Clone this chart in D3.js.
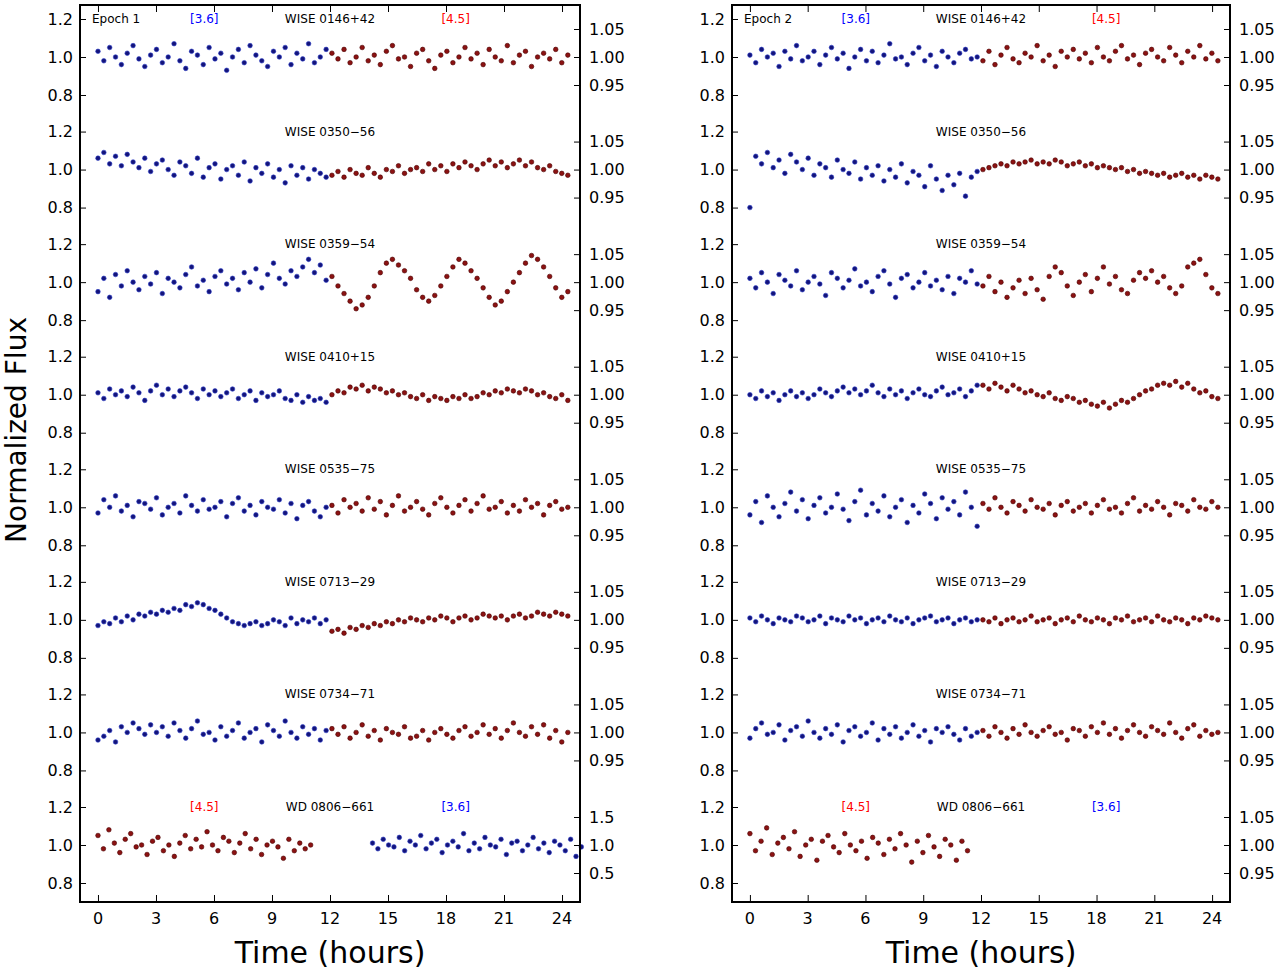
<!DOCTYPE html>
<html>
<head>
<meta charset="utf-8">
<script src="https://cdn.jsdelivr.net/npm/d3@7"></script>
<style>
  body { margin: 0; background: #fff; }
  text { font-family: "DejaVu Sans", sans-serif; }
</style>
</head>
<body>
<div id="chart"></div>
<script>
// object names, one per row
let targets = ['WISE 0146+42', 'WISE 0350\u221256', 'WISE 0359\u221254', 'WISE 0410+15',
    'WISE 0535\u221275', 'WISE 0713\u221229', 'WISE 0734\u221271', 'WD 0806\u2212661'];
let epochs = ['Epoch 1', 'Epoch 2'];
let leftTicks = [0.8, 1.0, 1.2];
let rightTicks = [0.95, 1.00, 1.05];
let rightTicksWD = [0.5, 1.0, 1.5];
let timeTicks = [0, 3, 6, 9, 12, 15, 18, 21, 24];

// time spans (hours) of each band per row: [start, end]
let span36 = [0, 11.8];
let span45 = [12.1, 24.3];
let spanWD45 = [[0, 11], [0, 11.3]];
let spanWD36 = [14.2, 25];

// flux deviations in percent, epoch 1
let epoch1Blue = [
  [3,-2,5,0,-4,2,6,-1,-5,1,4,-3,0,7,-2,-6,3,1,-4,5,-1,2,-7,0,4,-3,6,1,-2,-5,3,0,5,-4,2,-1,7,-3,0,4],
  [6,9,3,7,2,8,4,1,6,-1,3,5,0,-3,4,2,-2,6,-4,1,3,-5,0,2,-3,4,-6,1,-2,3,-4,0,-7,2,-3,1,-5,0,-2,-4],
  [-5,2,-8,4,-2,6,0,-4,3,-1,5,-6,2,0,-3,4,8,-2,1,-5,3,6,-1,2,-4,5,0,7,-3,4,10,2,-1,6,3,8,12,5,9,1],
  [1,-2,3,0,2,-1,4,1,-3,2,5,0,3,-1,2,4,1,-2,3,0,2,-1,1,3,-2,0,2,-3,1,-1,0,2,-2,-3,0,-4,-1,-3,-2,-4],
  [-3,4,0,6,-2,1,-5,3,2,-1,5,-4,0,2,-3,6,1,-2,4,-1,0,3,-5,2,5,-2,1,-4,3,0,-1,4,-3,2,-6,1,3,-2,-5,0],
  [-3,-1,-2,1,-1,2,0,3,2,4,3,5,4,6,5,8,7,9,8,6,5,3,1,-1,-2,-3,-2,-1,-3,-2,0,-1,-3,1,-2,0,-1,1,-2,0],
  [-4,-2,1,-5,3,0,5,2,-1,4,0,3,-2,5,1,-3,2,6,-1,0,-4,3,-2,1,5,-3,0,2,-5,4,1,-2,6,0,-3,3,-1,2,-4,1],
  [1,-2,3,0,-1,4,-3,2,0,5,-2,1,3,-4,0,2,-1,6,-3,1,-2,4,0,-1,3,-5,1,2,-3,0,4,-2,1,-4,2,0,-3,3,-6,-1]
];
let epoch1Red = [
  [2,-1,4,-3,0,5,-2,1,-4,3,6,-1,0,-5,2,4,-2,-6,1,3,-3,0,5,-1,2,-4,4,0,-2,6,-3,1,3,-5,0,2,-1,4,-3,1],
  [-3,-1,-4,0,-2,-3,1,-2,-4,0,-1,2,-2,0,1,-1,3,0,2,-1,3,1,4,2,0,3,5,2,4,1,3,5,2,4,1,0,2,-1,-2,-3],
  [3,-2,-6,-10,-14,-12,-8,-2,5,10,12,9,6,2,-4,-8,-10,-7,-2,3,8,12,10,6,2,-3,-8,-12,-10,-5,0,5,10,14,12,8,3,-3,-8,-5],
  [0,2,1,4,3,5,2,4,3,1,2,0,1,-1,-2,0,-3,-1,-2,-3,-1,-2,0,-2,-1,1,0,2,1,3,2,1,3,2,0,1,-1,-2,0,-3],
  [1,-3,4,0,2,-2,5,-1,3,-4,1,6,-2,0,3,-1,-4,2,5,0,-3,1,4,-2,2,6,-1,0,3,-3,1,-2,4,0,2,-4,1,3,-1,0],
  [-6,-5,-7,-4,-5,-3,-4,-2,-3,-1,-2,0,-1,1,0,-1,1,0,2,1,-1,1,2,0,1,3,2,1,2,0,2,3,1,2,4,3,2,4,3,2],
  [2,-1,3,-3,0,4,-2,1,-4,2,0,-1,3,-3,-2,1,-4,0,2,-1,-3,1,3,-2,0,4,-1,2,-3,1,5,0,-2,3,-1,4,-3,1,-5,0],
  [5,-2,8,1,-4,3,6,-1,0,-5,2,4,-3,0,-6,1,5,-2,3,-1,7,0,-3,4,2,-4,1,6,-2,3,-5,0,2,-1,-7,3,-3,1,-2,0]
];
// epoch 2 (no [3.6] for WD 0806-661)
let epoch2Blue = [
  [1,-3,4,0,2,-5,3,-1,6,-2,0,3,-4,1,5,-1,2,-6,0,4,-2,3,-3,1,7,-1,0,-4,2,5,-2,1,-5,3,0,-3,2,4,-1,0],
  [-20,7,3,9,1,5,-2,8,4,0,6,-3,3,1,-4,5,0,-2,4,-5,1,-3,2,-6,0,-4,3,-7,-1,-3,-9,2,-5,-11,-3,-8,-2,-14,-4,-1],
  [2,-3,5,0,-6,4,1,-2,6,-4,0,3,-1,-7,5,2,-3,1,7,-2,0,-5,3,6,-1,-8,2,4,-3,0,5,-2,1,-4,3,-6,2,0,6,-1],
  [0,-2,2,-1,1,-3,0,2,-1,1,-2,0,3,1,-1,2,4,1,3,0,2,5,1,-1,3,0,2,-2,1,3,0,-1,2,4,0,1,3,-1,2,5],
  [-4,3,-8,6,0,-5,2,8,-2,4,-6,1,5,-3,0,7,-1,-7,3,9,-4,2,-2,6,-5,0,4,-8,1,-3,7,2,-6,5,-1,3,-4,8,0,-10],
  [1,-1,2,0,-2,1,0,-1,2,1,-1,0,2,-2,1,0,-1,2,0,1,-2,0,1,-1,2,0,-1,1,-2,0,1,2,-1,0,1,-2,0,1,-1,0],
  [-3,2,5,-1,0,4,-4,1,3,-2,6,0,-3,2,-1,4,-5,1,3,-2,0,5,-4,2,-1,3,-3,0,4,-2,1,-5,2,0,3,-1,-4,2,-2,0],
  []
];
let epoch2Red = [
  [-2,3,-4,1,5,-1,-3,2,0,6,-2,1,-5,3,0,4,-1,2,-3,5,0,-2,3,6,-1,1,-4,2,4,0,-2,5,1,-3,3,0,6,-1,2,-2],
  [0,1,2,3,2,4,3,4,5,3,4,3,5,4,2,3,4,2,3,1,2,1,0,1,-1,0,-2,-1,-2,-3,-2,-4,-3,-2,-4,-3,-5,-3,-4,-5],
  [-2,3,-5,0,-8,-3,1,-6,2,-4,-9,3,8,5,-2,-7,0,4,-5,2,8,-1,3,-4,-6,1,5,2,6,0,3,-3,-6,-2,8,10,12,4,-3,-6],
  [5,3,6,4,2,5,3,1,2,0,-1,1,-2,-3,-1,-2,-4,-3,-5,-6,-4,-7,-5,-3,-4,-2,0,2,3,5,6,5,7,4,6,3,1,2,-1,-2],
  [2,-1,5,0,-3,3,1,-2,4,0,-1,2,-4,1,3,-2,0,2,-3,1,4,-1,0,-3,2,5,-2,1,-1,3,0,-4,2,1,-2,4,0,-1,3,0],
  [0,-1,1,-2,0,1,-1,0,2,-1,0,1,-2,0,1,-1,2,0,-1,1,0,-2,1,0,2,-1,0,1,-1,2,0,-1,1,0,-2,1,0,2,1,0],
  [1,-2,3,0,-3,2,-1,4,0,-2,1,3,-1,0,-4,2,1,-2,3,0,5,-1,2,-3,1,4,0,-2,3,1,-1,5,0,-3,2,4,-2,1,-1,0],
  [6,-3,2,9,-5,1,4,-2,7,-6,0,3,-8,2,5,-1,-4,6,0,-3,2,-7,4,1,-5,3,-2,6,0,-9,2,-4,5,-1,-6,3,0,-8,2,-3]
];

let width = 1280, height = 970;
let frameTop = 5, frameBottom = 902;
let panelX = [[80, 580], [732, 1230]];
let rowStep = (845 - 57) / 7;

let svg = d3.select('#chart').append('svg')
    .attr('width', width).attr('height', height);

let blueFill = '#14147a', blueEdge = '#2a3cc8';
let redFill = '#8b1212', redEdge = '#4a0000';

function drawSeries(g, x, y, vals, span, fill, edge) {
    let n = vals.length;
    g.append('g').selectAll('circle').data(vals).enter().append('circle')
        .attr('cx', function (d, i) { return x(span[0] + i * (span[1] - span[0]) / (n - 1)); })
        .attr('cy', function (d) { return y(1 + d / 100); })
        .attr('r', 2.3)
        .attr('fill', fill)
        .attr('stroke', edge)
        .attr('stroke-width', 0.6);
}

epochs.forEach(function (epoch, p) {
    let x = d3.scaleLinear().domain([-0.93, 24.93]).range(panelX[p]);
    let g = svg.append('g');
    let blue = p === 0 ? epoch1Blue : epoch2Blue;
    let red = p === 0 ? epoch1Red : epoch2Red;
    let xl = panelX[p][0], xr = panelX[p][1];
    let mid = x(12);

    targets.forEach(function (name, i) {
        let c = 57 + i * rowStep;
        let y = d3.scaleLinear().domain([0.8, 1.2]).range([c + 38, c - 38]);
        let yr = d3.scaleLinear().domain([0.95, 1.05]).range([c + 28, c - 28]);
        let wd = i === 7;
        let ty = c - 34;

        // left ticks
        g.append('g').attr('transform', 'translate(' + xl + ',0)')
            .call(d3.axisRight(y).tickValues(leftTicks).tickSize(6).tickFormat(''))
            .call(function (a) { a.select('.domain').remove(); });
        g.append('g').selectAll('text').data(leftTicks).enter().append('text')
            .attr('x', xl - 7).attr('y', function (d) { return y(d); })
            .attr('dy', '0.35em').attr('text-anchor', 'end').attr('font-size', '16px')
            .text(function (d) { return d.toFixed(1); });

        // right ticks
        let rt = (wd && p === 0) ? rightTicksWD : rightTicks;
        let ys = (wd && p === 0) ? d3.scaleLinear().domain([0.5, 1.5]).range([c + 28, c - 28]) : yr;
        g.append('g').attr('transform', 'translate(' + xr + ',0)')
            .call(d3.axisLeft(ys).tickValues(rt).tickSize(6).tickFormat(''))
            .call(function (a) { a.select('.domain').remove(); });
        g.append('g').selectAll('text').data(rt).enter().append('text')
            .attr('x', xr + 9).attr('y', function (d) { return ys(d); })
            .attr('dy', '0.35em').attr('font-size', '16px')
            .text(function (d) { return (wd && p === 0) ? d.toFixed(1) : d.toFixed(2); });

        g.append('text').attr('x', mid).attr('y', ty)
            .attr('text-anchor', 'middle').attr('font-size', '12px').text(name);

        if (wd) {
            drawSeries(g, x, y, red[i], spanWD45[p], redFill, redEdge);
            if (p === 0) drawSeries(g, x, y, blue[i], spanWD36, blueFill, blueEdge);
            g.append('text').attr('x', x(5.5)).attr('y', ty).attr('text-anchor', 'middle')
                .attr('font-size', '12px').attr('fill', 'red').text('[4.5]');
            g.append('text').attr('x', x(18.5)).attr('y', ty).attr('text-anchor', 'middle')
                .attr('font-size', '12px').attr('fill', 'blue').text('[3.6]');
        } else {
            drawSeries(g, x, y, blue[i], span36, blueFill, blueEdge);
            drawSeries(g, x, y, red[i], span45, redFill, redEdge);
        }
    });

    // top row labels
    g.append('text').attr('x', xl + 12).attr('y', 23).attr('font-size', '12px').text(epoch);
    g.append('text').attr('x', x(5.5)).attr('y', 23).attr('text-anchor', 'middle')
        .attr('font-size', '12px').attr('fill', 'blue').text('[3.6]');
    g.append('text').attr('x', x(18.5)).attr('y', 23).attr('text-anchor', 'middle')
        .attr('font-size', '12px').attr('fill', 'red').text('[4.5]');

    // time axes
    let xb = g.append('g').attr('transform', 'translate(0,' + frameBottom + ')')
        .call(d3.axisTop(x).tickValues(timeTicks).tickSize(7).tickFormat(''));
    xb.select('.domain').remove();
    let xt = g.append('g').attr('transform', 'translate(0,' + frameTop + ')')
        .call(d3.axisBottom(x).tickValues(timeTicks).tickSize(7).tickFormat(''));
    xt.select('.domain').remove();
    g.append('g').selectAll('text').data(timeTicks).enter().append('text')
        .attr('x', function (d) { return x(d); }).attr('y', 924)
        .attr('text-anchor', 'middle').attr('font-size', '16px')
        .text(function (d) { return d; });

    g.append('rect').attr('x', xl).attr('y', frameTop)
        .attr('width', xr - xl).attr('height', frameBottom - frameTop)
        .attr('fill', 'none').attr('stroke', '#000').attr('stroke-width', 2);

    g.append('text').attr('x', (xl + xr) / 2).attr('y', 963)
        .attr('text-anchor', 'middle').attr('font-size', '30px').text('Time (hours)');
});

svg.append('text')
    .attr('transform', 'translate(26,' + 430 + ') rotate(-90)')
    .attr('text-anchor', 'middle').attr('font-size', '28px').text('Normalized Flux');
</script>
</body>
</html>
